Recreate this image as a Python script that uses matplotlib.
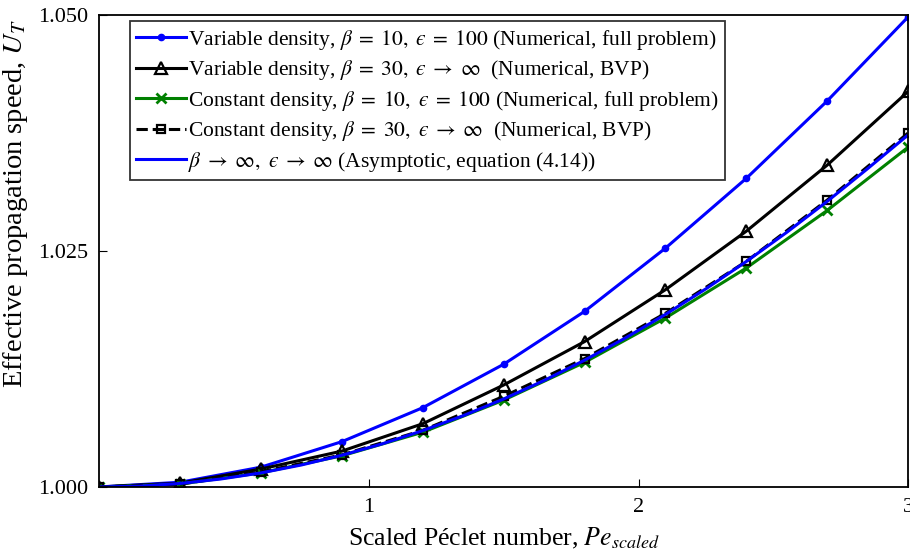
import numpy as np
import matplotlib
matplotlib.use("Agg")
import matplotlib.pyplot as plt

plt.rcParams['font.family'] = ['Liberation Serif', 'DejaVu Serif']
plt.rcParams['mathtext.fontset'] = 'stix'

# data
pe = [0.0, 0.3, 0.6, 0.9, 1.2, 1.5, 1.8, 2.1, 2.4, 2.7, 3.0]
var_b10 = [1.0000, 1.0005, 1.0021, 1.0048, 1.0084, 1.0130, 1.0186, 1.0253, 1.0327, 1.0409, 1.0498]
var_b30 = [1.0000, 1.0004, 1.0019, 1.0038, 1.0067, 1.0108, 1.0154, 1.0209, 1.0271, 1.0341, 1.0419]
con_b10 = [1.0000, 1.0003, 1.0015, 1.0033, 1.0058, 1.0092, 1.0132, 1.0179, 1.0232, 1.0293, 1.0360]
con_b30 = [1.0000, 1.0003, 1.0016, 1.0034, 1.0060, 1.0096, 1.0136, 1.0184, 1.0239, 1.0304, 1.0375]

pe_asym = [0.0, 0.15, 0.3, 0.45, 0.6, 0.75, 0.9, 1.05, 1.2, 1.35, 1.5,
           1.65, 1.8, 1.95, 2.1, 2.25, 2.4, 2.55, 2.7, 2.85, 3.0]
asym = [1.0, 1.00009, 1.00037, 1.00084, 1.00149, 1.00233, 1.00336, 1.00457,
        1.00597, 1.00755, 1.00932, 1.01128, 1.01343, 1.01576, 1.01828,
        1.02099, 1.02389, 1.02698, 1.03026, 1.03373, 1.0373]

labels = [
    r'Variable density, $\beta\;=\;10,\ ϵ\;=\;100$ (Numerical, full problem)',
    r'Variable density, $\beta\;=\;30,\ ϵ\;\rightarrow\;\infty$  (Numerical, BVP)',
    r'Constant density, $\beta\;=\;10,\ ϵ\;=\;100$ (Numerical, full problem)',
    r'Constant density, $\beta\;=\;30,\ ϵ\;\rightarrow\;\infty$  (Numerical, BVP)',
    r'$\beta\;\rightarrow\;\infty,\ ϵ\;\rightarrow\;\infty$ (Asymptotic, equation (4.14))',
]

fig, ax = plt.subplots(figsize=(9.1, 5.54), dpi=100)
fig.subplots_adjust(left=0.109, right=0.998, top=0.973, bottom=0.121)

ax.plot(pe, var_b10, '-o', color='#0000ff', lw=2.2, ms=4.5, label=labels[0])
ax.plot(pe, var_b30, '-^', color='black', lw=2.2, ms=8, mfc='none', mew=1.6, label=labels[1])
ax.plot(pe, con_b10, '-x', color='#008000', lw=2.2, ms=7, mew=2, label=labels[2])
ax.plot(pe, con_b30, '--s', color='black', lw=2.2, ms=6, mfc='none', mew=1.6, label=labels[3])
ax.plot(pe_asym, asym, '-', color='#0000ff', lw=2.2, label=labels[4])

ax.set_xlim(0, 3)
ax.set_ylim(1.0, 1.05)
ax.set_xticks([1, 2, 3])
ax.set_yticks([1.0, 1.025, 1.05])
ax.set_yticklabels(['1.000', '1.025', '1.050'])
ax.tick_params(direction='in', length=6, labelsize=16, pad=8)
ax.set_xlabel(r'Scaled Péclet number, $Pe_{scaled}$', fontsize=18.5, labelpad=6)
ax.set_ylabel(r'Effective propagation speed, $U_T$', fontsize=20.5)
ax.yaxis.set_label_coords(-0.085, 0.6)
for s in ax.spines.values():
    s.set_linewidth(1.3)

leg = ax.legend(loc='upper left', bbox_to_anchor=(0.03, 1.0), fontsize=15.5,
                frameon=True, fancybox=False, edgecolor='black',
                handlelength=2.3, handletextpad=0.1, labelspacing=0.3,
                borderpad=0.3, borderaxespad=0.3)
leg.get_frame().set_linewidth(1.3)

plt.savefig("out.png")
